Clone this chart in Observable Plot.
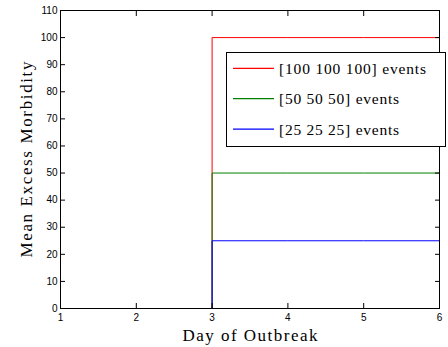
<!DOCTYPE html>
<html><head><meta charset="utf-8">
<script src="https://cdn.jsdelivr.net/npm/d3@7"></script>
<script src="https://cdn.jsdelivr.net/npm/@observablehq/plot@0.6"></script>
<style>
html,body{margin:0;padding:0;background:#fff;}
#wrap{position:relative;width:448px;height:347px;overflow:hidden;}
</style></head><body><div id="wrap"></div>
<script>
const days = [1, 2, 3, 4, 5, 6];
const seriesNames = ["[100 100 100] events", "[50 50 50] events", "[25 25 25] events"];
const values100 = [0, 0, 100, 100, 100, 100];
const values50 = [0, 0, 50, 50, 50, 50];
const values25 = [0, 0, 25, 25, 25, 25];
const seriesColors = ["#ff0000", "#008000", "#0000ff"];
const xTicks = [1, 2, 3, 4, 5, 6];
const yTicks = [0, 10, 20, 30, 40, 50, 60, 70, 80, 90, 100, 110];
const xLabel = "Day of Outbreak";
const yLabel = "Mean Excess Morbidity";

const allValues = [values100, values50, values25];
const rows = [];
allValues.forEach((vals, i) => days.forEach((d, j) => rows.push({day: d, value: vals[j], series: seriesNames[i]})));

const serif = "'Liberation Serif', 'Times New Roman', serif";
const tickFont = {fontFamily: "'Liberation Sans', Arial, sans-serif", fontSize: 10};
const chart = Plot.plot({
  width: 448, height: 347,
  marginLeft: 60, marginRight: 9, marginTop: 10, marginBottom: 39,
  style: {background: "white", color: "black"},
  x: {domain: [1, 6], label: null},
  y: {domain: [0, 110], label: null},
  color: {domain: seriesNames, range: seriesColors},
  marks: [
    Plot.line(rows, {x: "day", y: "value", z: "series", stroke: "series", curve: "step-after", strokeWidth: 1}),
    Plot.frame({stroke: "black", strokeWidth: 1}),
    Plot.axisX(xTicks, {anchor: "bottom", tickSize: -5, tickFormat: () => "", label: null}),
    Plot.axisX(xTicks, {anchor: "top", tickSize: -5, tickFormat: () => "", label: null}),
    Plot.axisY(yTicks, {anchor: "left", tickSize: -5, tickFormat: () => "", label: null}),
    Plot.axisY(yTicks, {anchor: "right", tickSize: -5, tickFormat: () => "", label: null}),
    Plot.axisX(xTicks, {anchor: "bottom", tickSize: 0, tickPadding: 5, label: null, ...tickFont}),
    Plot.axisY(yTicks, {anchor: "left", tickSize: 0, tickPadding: 3, label: null, ...tickFont}),
    Plot.text([xLabel], {frameAnchor: "bottom", text: d => d, textAnchor: "middle", lineAnchor: "bottom", dy: 32, fontFamily: serif, fontSize: 17}),
    Plot.text([yLabel], {frameAnchor: "left", text: d => d, textAnchor: "middle", lineAnchor: "middle", rotate: -90, dx: -34, fontFamily: serif, fontSize: 17})
  ]
});
const wrap = document.getElementById("wrap");
wrap.appendChild(chart);

// stretch the axis titles to the widths of the reference's wider serif face
const byText = s => d3.select(chart).selectAll("text").filter(function() { return this.textContent === s; });
byText(xLabel).attr("textLength", 135).attr("lengthAdjust", "spacing");
byText(yLabel).attr("textLength", 196).attr("lengthAdjust", "spacing");

// legend box drawn over the plot, as in the reference
const legendTextLengths = [147, 120, 120];
const lg = d3.create("svg").attr("width", 448).attr("height", 347)
  .style("position", "absolute").style("left", "0px").style("top", "0px");
lg.append("rect").attr("x", 226.5).attr("y", 52.5).attr("width", 219).attr("height", 94)
  .attr("fill", "white").attr("stroke", "black").attr("stroke-width", 1);
seriesNames.forEach((name, i) => {
  const cy = 68.3 + i * 30.4;
  lg.append("line").attr("x1", 233).attr("x2", 274).attr("y1", cy).attr("y2", cy)
    .attr("stroke", seriesColors[i]).attr("stroke-width", 1.2);
  lg.append("text").attr("x", 279).attr("y", cy + 5.5).text(name)
    .attr("font-family", "Liberation Serif, Times New Roman, serif").attr("font-size", 15.5)
    .attr("textLength", legendTextLengths[i]).attr("lengthAdjust", "spacing").attr("fill", "black");
});
wrap.appendChild(lg.node());
</script>
</body></html>
